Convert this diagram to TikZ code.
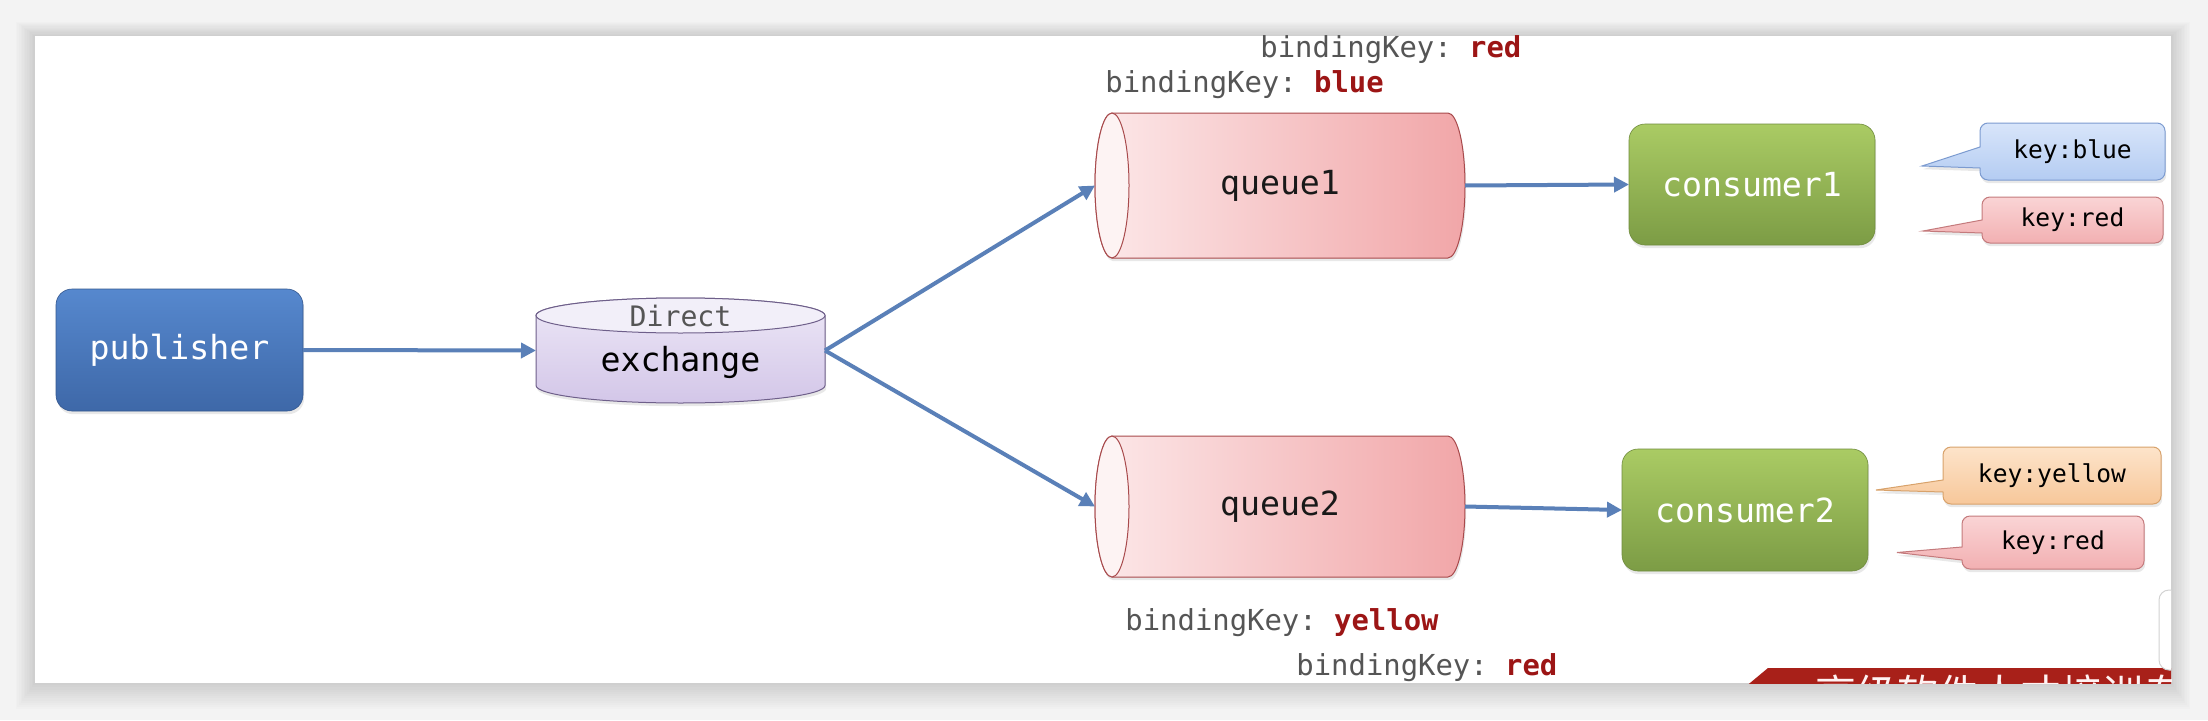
\documentclass[tikz,border=0pt]{standalone}
\usepackage{fontspec}
\setmonofont{DejaVu Sans Mono}
\newfontfamily\cjkfont{Noto Sans CJK SC}
\usetikzlibrary{arrows.meta,shadows}
\definecolor{bggray}{HTML}{F3F3F3}
\definecolor{arrowblue}{HTML}{5A80B8}
\definecolor{pubtop}{HTML}{5688CE}
\definecolor{pubbot}{HTML}{3E68A8}
\definecolor{constop}{HTML}{AACB64}
\definecolor{consbot}{HTML}{7C9C45}
\definecolor{extop}{HTML}{EDE8F7}
\definecolor{exbot}{HTML}{D3C6E8}
\definecolor{exline}{HTML}{6E5F8A}
\definecolor{qleft}{HTML}{FCE8E9}
\definecolor{qright}{HTML}{F1A6A8}
\definecolor{qface}{HTML}{FDF3F3}
\definecolor{qline}{HTML}{A84A4C}
\definecolor{bluetop}{HTML}{D8E5FA}
\definecolor{bluebot}{HTML}{B4CCF2}
\definecolor{blueline}{HTML}{7C9BD0}
\definecolor{redtop}{HTML}{FAD4D5}
\definecolor{redbot}{HTML}{F2B0B2}
\definecolor{redline}{HTML}{C47A7C}
\definecolor{yeltop}{HTML}{FDE4CA}
\definecolor{yelbot}{HTML}{F7C79A}
\definecolor{yelline}{HTML}{D8A26B}
\definecolor{keygray}{HTML}{555555}
\definecolor{keyred}{HTML}{9C1515}
\definecolor{bannerred}{HTML}{A82019}
\newcommand\calloutshape[9]{%
  \path[#9] (#1,#5) -- (#6,#7) -- (#1,#8) -- (#1,{#2+8})
    arc[start angle=180,end angle=270,radius=8] -- ({#3-8},#2)
    arc[start angle=270,end angle=360,radius=8] -- (#3,{#4-8})
    arc[start angle=0,end angle=90,radius=8] -- ({#1+8},#4)
    arc[start angle=90,end angle=180,radius=8] -- cycle;}
\begin{document}
\begin{tikzpicture}[x=0.5pt,y=0.5pt,
  arr/.style={draw=arrowblue, line width=2pt, -{Triangle[length=7.5pt,width=7.5pt]}},
  bigfont/.style={font=\ttfamily\fontsize{16.6}{20}\selectfont},
  keyfont/.style={font=\ttfamily\fontsize{12.3}{15}\selectfont},
  bkfont/.style={font=\ttfamily\fontsize{14.45}{17}\selectfont, text=keygray, anchor=west, inner sep=0pt},
  softshadow/.style={drop shadow={opacity=0.18, shadow xshift=0.6pt, shadow yshift=-1.6pt}},
  pubbox/.style={bigfont, rounded corners=8pt, inner sep=0pt, outer sep=0pt,
     minimum width=123.5pt, minimum height=61pt, top color=pubtop, bottom color=pubbot,
     draw=pubbot!85!black, line width=0.3pt, text=white, softshadow},
  consbox/.style={bigfont, rounded corners=8pt, inner sep=0pt, outer sep=0pt,
     minimum width=123pt, minimum height=61pt, top color=constop, bottom color=consbot,
     draw=consbot!90!black, line width=0.3pt, text=white, softshadow},
  exbody/.style={top color=extop, bottom color=exbot, draw=exline, line width=0.5pt, softshadow},
  qbody/.style={left color=qleft, right color=qright, draw=qline, line width=0.5pt, softshadow},
  qlabel/.style={bigfont, inner sep=0pt, outer sep=0pt, text=black!90},
  bluecall/.style={top color=bluetop, bottom color=bluebot, draw=blueline, line width=0.5pt, softshadow},
  redcall/.style={top color=redtop, bottom color=redbot, draw=redline, line width=0.5pt, softshadow},
  yelcall/.style={top color=yeltop, bottom color=yelbot, draw=yelline, line width=0.5pt, softshadow}
]
\useasboundingbox (0,0) rectangle (2208,720);
% background and panel
\fill[bggray] (0,0) rectangle (2208,720);
\foreach \i in {1,...,12}
  \fill[black,opacity=0.011] ({35-1.6*\i},{37-2.2*\i}) rectangle ({2171+1.6*\i},{684+1.2*\i});
\fill[white] (35,37) rectangle (2171,684);

% exchange cylinder
\path[exbody] (536,404.5) -- (536,334.5)
  arc[start angle=180,end angle=360,x radius=144.5,y radius=17.5] -- (825,404.5)
  arc[start angle=0,end angle=180,x radius=144.5,y radius=17.5] -- cycle;
\path[fill=extop!70!white, draw=exline, line width=0.5pt] (680.5,404.5) ellipse [x radius=144.5, y radius=17.5];
\node[inner sep=0pt, outer sep=0pt, minimum width=144.5pt, minimum height=35pt] (exch) at (680.5,369.5) {};
\node[font=\ttfamily\fontsize{14.1}{17}\selectfont, text=keygray, inner sep=0pt] (exdirect) at (680.5,404) {Direct};
\node[bigfont, inner sep=0pt] (exname) at (680.5,358) {exchange};

% queue1
\path[qbody] (1112,607) -- (1448,607)
  arc[start angle=90,end angle=-90,x radius=17,y radius=72.5] -- (1112,462)
  arc[start angle=270,end angle=90,x radius=17,y radius=72.5] -- cycle;
\path[fill=qface, draw=qline, line width=0.5pt] (1112,534.5) ellipse [x radius=17, y radius=72.5];
\node[qlabel, minimum width=185pt, minimum height=72.5pt] (q1) at (1280,534.5) {queue1};

% queue2
\path[qbody] (1112,284) -- (1448,284)
  arc[start angle=90,end angle=-90,x radius=17,y radius=70.5] -- (1112,143)
  arc[start angle=270,end angle=90,x radius=17,y radius=70.5] -- cycle;
\path[fill=qface, draw=qline, line width=0.5pt] (1112,213.5) ellipse [x radius=17, y radius=70.5];
\node[qlabel, minimum width=185pt, minimum height=70.5pt] (q2) at (1280,213.5) {queue2};

% boxes
\node[pubbox] (pub) at (179.5,370) {publisher};
\node[consbox, minimum height=60.5pt] (c1) at (1752,535.5) {consumer1};
\node[consbox] (c2) at (1745,210) {consumer2};

% connectors
\draw[arr] (pub.east) -- (exch.west);
\draw[arr] (exch.east) -- (q1.west);
\draw[arr] (exch.east) -- (q2.west);
\draw[arr] (q1.east) -- (c1.west);
\draw[arr] (q2.east) -- (c2.west);

% binding keys
\node[bkfont] (bk1) at (1260,670) {bindingKey: \textcolor{keyred}{\bfseries red}};
\node[bkfont] (bk2) at (1105,635.5) {bindingKey: \textcolor{keyred}{\bfseries blue}};
\node[bkfont] (bk3) at (1125,97) {bindingKey: \textcolor{keyred}{\bfseries yellow}};
\node[bkfont] (bk4) at (1296,52) {bindingKey: \textcolor{keyred}{\bfseries red}};

% callouts
\calloutshape{1980}{540}{2165}{597}{573}{1922}{554}{552}{bluecall}
\node[keyfont, inner sep=0pt] (kblue) at (2072.5,568.5) {key:blue};
\calloutshape{1982}{477}{2163}{523}{500}{1923}{489}{487}{redcall}
\node[keyfont, inner sep=0pt] (kred1) at (2072.5,500) {key:red};
\calloutshape{1943}{216}{2161}{273}{240}{1876}{230}{228}{yelcall}
\node[keyfont, inner sep=0pt] (kyel) at (2052,244.5) {key:yellow};
\calloutshape{1962}{151}{2144}{204}{173}{1897}{167.5}{160}{redcall}
\node[keyfont, inner sep=0pt] (kred2) at (2053,177.5) {key:red};

% cropped banner
\begin{scope}
  \clip (35,37) rectangle (2171,684);
  \fill[bannerred] (1732,22) -- (1768,52) -- (2200,52) -- (2200,22) -- cycle;
  \node[anchor=base west, inner sep=0pt, text=white!95!red, font=\cjkfont\fontsize{20.5}{22}\selectfont] (banner) at (1815,11) {高级软件人才培训专家};
  \fill[white, draw=gray!35, line width=0.5pt, rounded corners=5pt] (2159,50) rectangle (2220,130);
\end{scope}
\end{tikzpicture}
\end{document}
